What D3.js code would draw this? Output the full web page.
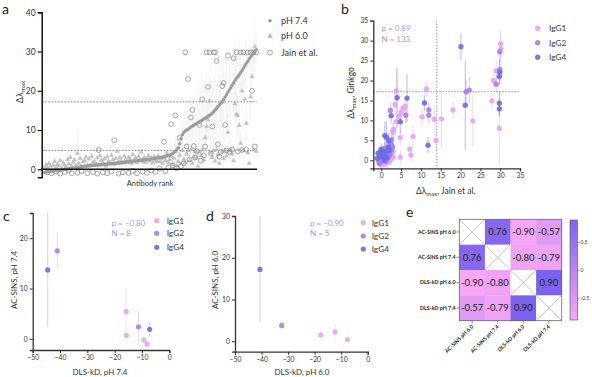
<!DOCTYPE html>
<html><head><meta charset="utf-8">
<script src="https://cdn.jsdelivr.net/npm/d3@7"></script>
<style>body{margin:0;background:#fff} svg{display:block;font-family:Lato,"Open Sans",sans-serif}</style>
</head><body><svg id="c" width="592" height="377"></svg>
<script>
// ---------- Panel a data (ranked by pH 7.4) ----------
const ph74 = [-0.8,-0.7,-0.6,-0.6,-0.5,-0.5,-0.4,-0.4,-0.3,-0.3,
-0.2,-0.2,-0.1,-0.1,0,0,0.1,0.1,0.2,0.2,
0.3,0.3,0.4,0.5,0.5,0.6,0.7,0.7,0.8,0.8,
0.8,0.9,0.9,1.0,1.0,1.0,1.1,1.1,1.1,1.2,
1.2,1.2,1.3,1.3,1.3,1.4,1.4,1.4,1.5,1.5,
1.5,1.6,1.6,1.6,1.7,1.7,1.8,1.8,1.9,1.9,
2.0,2.0,2.0,2.1,2.1,2.2,2.2,2.3,2.3,2.4,
2.4,2.5,2.5,2.5,2.6,2.6,2.7,2.8,2.8,2.9,
2.9,3.0,3.1,3.1,3.2,3.3,3.4,3.5,3.6,3.8,
4.0,4.3,4.6,4.9,5.5,6.5,7.8,8.8,9.4,9.8,
10.0,10.2,10.5,10.8,11.0,11.2,11.5,11.7,11.9,12.1,
12.3,12.5,12.8,13.0,13.2,13.5,13.7,14.0,14.3,14.7,
15.1,15.5,16.0,16.4,16.8,17.2,17.8,18.4,19.0,19.6,
20.2,20.8,21.4,22.0,22.6,23.2,23.6,24.1,24.6,25.2,
25.8,26.4,27.0,27.5,28.1,28.6,29.1,29.6,30.0,30.5];
const ph74Err = [0.6,0.9,0.5,1.2,0.7,0.8,1.0,0.6,1.5,0.9,0.7,1.1,0.8,0.6,1.3,0.9,0.7,1.0,0.8,1.4,
0.9,0.6,1.2,0.8,1.0,0.7,1.5,0.9,0.6,1.1,0.8,1.3,0.7,1.0,0.9,1.6,0.8,1.1,0.7,1.2,
0.9,1.4,0.8,1.0,1.7,0.9,1.2,0.8,1.5,1.0,1.1,0.9,1.8,1.2,0.8,1.4,1.0,1.6,0.9,1.3,
1.2,1.0,1.9,1.3,1.1,1.5,0.9,2.0,1.2,1.4,1.6,1.1,2.2,1.3,1.0,1.8,1.4,2.5,1.2,1.6,
1.9,1.3,2.8,1.5,1.7,2.0,3.0,1.6,2.2,2.6,3.0,2.4,3.5,2.8,4.0,3.2,4.5,3.0,5.0,6.0,
4.5,7.0,5.5,8.0,6.0,9.0,5.0,7.5,10.0,6.5,8.0,5.5,9.5,7.0,11.0,6.0,8.5,12.0,7.0,9.0,
10.5,6.5,8.0,12.5,7.5,9.0,11.0,6.0,10.0,8.5,7.0,9.5,6.5,8.0,10.5,7.5,6.0,9.0,5.5,7.0,
4.5,6.5,5.0,3.5,4.0,3.0,4.5,3.0,2.5,3.5];
const ph60 = [0.5,1.2,0.3,1.5,0.8,-0.3,1.0,2.0,0.4,1.3,
0.9,2.2,0.2,1.6,1.1,0.6,2.5,1.4,3.0,0.8,
1.8,2.4,1.0,4.0,1.5,2.8,0.7,1.9,2.2,3.1,
1.2,2.6,0.9,3.3,1.7,2.0,1.4,2.9,1.1,3.5,
2.3,1.6,2.7,0.8,3.2,2.1,1.5,3.6,2.4,1.3,
2.8,4.6,1.9,3.0,2.2,1.6,3.4,2.5,1.8,3.1,
2.7,1.5,3.8,2.2,2.9,1.7,3.3,2.4,4.4,2.0,
3.0,1.8,2.6,3.5,2.1,2.9,1.6,3.2,2.3,1.9,
3.4,2.0,2.7,1.5,3.0,2.2,4.1,1.7,2.5,3.3,
1.2,2.8,4.5,0.9,2.0,3.6,1.4,4.8,2.6,1.8,
3.9,4.7,2.2,5.0,1.5,3.2,4.6,2.9,0.8,4.4,
3.5,4.9,2.4,8.0,10.9,12.6,17.4,4.2,3.0,4.8,
2.1,5.0,3.7,1.5,17.0,4.6,2.8,4.9,3.4,9.4,
4.7,5.0,3.9,2.2,16.7,14.0,13.7,11.2,6.6,20.0,
4.9,17.9,11.7,4.2,1.5,18.5,23.6,5.0,31.2,4.6];
const ph60Err = [0.5,0.8,0.4,1.0,0.6,0.5,0.7,1.2,0.4,0.9,0.6,1.5,0.4,0.8,0.7,0.5,1.8,0.9,2.0,0.6,
1.0,1.6,0.7,6.0,0.9,1.5,0.5,1.1,1.3,2.0,0.8,1.4,0.6,2.2,1.0,1.2,0.8,1.8,0.7,2.5,
1.3,0.9,1.6,0.6,2.0,1.2,0.9,2.4,1.4,0.8,1.6,3.5,1.1,1.8,1.3,0.9,2.2,1.5,1.0,2.0,
1.6,0.9,2.5,1.3,1.8,1.0,2.1,1.4,3.0,1.2,1.8,1.0,1.5,2.2,1.2,1.7,0.9,2.0,1.4,1.1,
2.1,1.2,1.6,0.9,1.8,1.3,2.6,1.0,1.5,2.0,0.8,1.7,2.8,0.6,1.2,2.2,0.9,3.0,1.6,1.1,
2.4,2.9,1.3,3.0,0.9,2.0,2.8,1.8,0.6,2.7,2.1,3.0,1.5,4.0,5.0,5.5,6.0,2.6,1.8,3.0,
1.3,3.0,2.2,0.9,6.0,2.8,1.7,3.0,2.1,4.5,2.9,3.0,2.4,1.3,6.0,5.5,5.0,4.5,3.5,6.0,
3.0,6.0,5.0,2.6,0.9,6.0,7.0,3.0,8.0,2.8];
const jainRank = [3,6,9,12,15,18,20,24,27,31,35,38,39,42,45,48,50,53,56,60,63,66,70,73,76,79,82,85,86,88,90,91,93,94,96,97,99,100,101,102,103,104,105,106,107,108,110,111,112,113,114,115,116,117,118,119,120,121,122,123,124,125,126,127,128,129,130,131,133,134,136,137,139,140,141,143,144,146,147,148,149,150];
const jainValue = [-0.8,-1.0,-0.6,-1.1,-0.7,-0.3,-1.0,-0.9,-0.5,-1.0,-0.7,-1.1,4.9,-0.8,-1.0,-0.6,7.4,-1.1,-0.8,-0.9,-0.4,-1.0,-0.6,-0.9,-0.3,-0.7,0.2,7.0,-0.5,0.5,11.5,1.0,13.7,0.3,8.0,0.8,1.5,29.8,5.8,23.0,2.5,13.2,15.1,5.9,3.0,4.6,11.3,2.2,17.8,3.5,5.8,29.8,21.0,29.8,4.0,10.9,29.8,29.8,27.6,6.4,3.2,4.5,21.2,22.0,11.3,4.8,28.9,4.4,5.0,28.3,29.8,4.6,29.8,4.9,29.8,5.0,29.8,29.8,20.0,29.8,5.8,29.8];
const aYTicks = [0,10,20,30,40];
const aThresholds = [17.2, 4.8];
const aLegend = ["pH 7.4","pH 6.0","Jain et al."];

// ---------- Panel b data: [Jain et al., Ginkgo, error] ----------
const bIgG1 = [[30.1,29.2,3.5],[29.0,22.4,3],[28.3,20.0,2],[27.9,14.9,2],[29.8,8.0,9],[23.1,9.9,6.5],[18.1,12.6,2.2],
[15.2,10.4,7],[13.4,10.3,3],[13.8,5.0,3],[11.4,17.9,2],[10.3,10.9,2.5],[3.8,17.4,5.5],[5.5,13.0,2],[3.8,9.7,2],
[4.8,5.7,2],[4.8,0.8,2],[7.2,2.8,1.5],[7.5,1.3,1.5],[8.0,6.0,3],[3.1,7.8,2],[2.9,7.4,2],[5.0,12.0,2],[3.5,14.0,3],
[6.0,13.5,2],[4.5,11.0,2],[3.0,7.0,1.5],[0.0,-1.2,0.8],[0.5,-0.5,1],[1.7,1.3,1],[2.0,0.2,1],[2.3,1.2,1],[2.7,1.8,1],
[3.0,2.2,1],[3.0,0.8,1],[-0.7,-0.3,1],[0.3,-0.8,1],[1.0,-1.0,1],[2.0,-0.5,1],[-0.2,0.6,1],[1.4,3.8,1.5],[2.6,0.4,1],
[2.9,3.0,1],[1.2,2.1,1],[30.2,28.0,3]];
const bIgG2 = [[29.9,27.2,2.5],[29.9,22.8,2.5],[29.0,19.1,2],[21.4,17.2,3],[22.2,17.6,3.3],[12.0,12.6,2],[12.0,11.3,2],
[2.3,12.5,2],[6.2,11.3,2],[-0.5,0.0,1],[-0.5,-0.8,1],[0.0,0.3,1],[0.3,0.8,1],[0.7,1.2,1],[1.0,2.5,1.2],[1.2,-0.3,1],
[1.3,1.8,1],[1.5,2.8,1],[2.0,2.0,1],[2.2,3.0,1.2],[2.5,2.5,1],[2.5,4.0,1.5],[2.8,3.5,1],[0.4,1.9,1],[1.1,0.4,1],
[2.2,1.6,1],[0.9,3.0,1.5],[-0.4,1.4,1],[1.9,1.0,1],[0.1,-0.2,1],[2.4,4.5,1],[2.6,5.2,1.5]];
const bIgG4 = [[20.1,28.5,3.3],[29.9,22.1,3],[29.8,21.0,2],[29.8,14.3,3],[29.8,12.9,2],[21.2,13.8,11.3],[10.9,14.4,2],
[11.8,3.8,2],[4.0,15.7,7.5],[6.5,15.6,6],[2.5,11.2,2],[4.8,9.7,3],[0.9,6.2,3.5],[1.9,4.9,2],[-1.0,0.5,1],[-0.8,1.8,1.2],
[-0.3,1.0,1],[-0.2,2.0,1],[0.2,1.5,1],[0.5,2.2,1.5],[0.8,0.0,1],[1.0,1.0,1],[1.5,0.6,1],[1.8,3.3,1.2],[0.0,2.8,1.5],
[1.6,2.3,1],[2.1,2.6,1],[0.6,1.0,1],[1.3,5.8,4]];
const bTicks = [0,5,10,15,20,25,30,35];
const bThreshX = 14, bThreshY = 17.2;

// ---------- Panels c, d: [DLS-kD, AC-SINS, error] ----------
const cIgG1 = [[-15.8,5.4,4.7],[-15.7,0.7,0.3],[-9.3,-0.2,0.5],[-8.1,-1.05,0.3]];
const cIgG2 = [[-41.0,17.5,3.5],[-11.3,2.4,3.1]];
const cIgG4 = [[-44.5,13.7,11.3],[-7.2,1.9,1.5]];
const dIgG1 = [[-17.7,1.5,0.8],[-12.3,2.2,1.8],[-7.6,0.4,0.5]];
const dIgG2 = [[-32.4,3.8,0.8]];
const dIgG4 = [[-40.6,17.2,12.8]];
const cdXTicks = [-50,-40,-30,-20,-10,0];
const cYTicks = [0,10,20];
const dYTicks = [0,10,20,30];
const subclasses = ["IgG1","IgG2","IgG4"];
const subColors = ["#e3a5ef","#a67fe9","#6a6de2"];

// ---------- Panel e ----------
const eLabels = ["AC-SINS pH 6.0","AC-SINS pH 7.4","DLS-kD pH 6.0","DLS-kD pH 7.4"];
const eMatrix = [[null,0.76,-0.90,-0.57],[0.76,null,-0.80,-0.79],[-0.90,-0.80,null,0.90],[-0.57,-0.79,0.90,null]];
const eBarTicks = [0.5,0,-0.5];

// ================= drawing =================
const svg = d3.select("#c");
const txtCol = "#333";

function subLabel(g, x, y, rotate, size, parts, anchor="middle"){
  const t = g.append("text").attr("transform",`translate(${x},${y}) rotate(${rotate})`)
    .attr("text-anchor",anchor).attr("font-size",size).attr("fill",txtCol);
  parts.forEach(p=>{
    const s = t.append("tspan").text(p.t);
    if(p.sub){ s.attr("font-size",size*0.7).attr("dy",size*0.25); }
    else if(p.after){ s.attr("dy",-size*0.25); }
  });
  return t;
}
function styleAxis(g, col, w, fs){
  g.selectAll(".domain").attr("stroke",col).attr("stroke-width",w);
  g.selectAll(".tick line").attr("stroke",col).attr("stroke-width",w*0.8);
  g.selectAll(".tick text").attr("fill",txtCol).attr("font-size",fs).attr("font-family","Lato,sans-serif");
}
function letter(x,y,s){ svg.append("text").attr("x",x).attr("y",y).attr("font-size",14).attr("fill","#222").text(s); }

// ---- Panel a ----
{
  const g = svg.append("g");
  const x = d3.scaleLinear().domain([0.5,150.5]).range([44,257]);
  const y = d3.scaleLinear().domain([-2,40]).range([177.15,12.3]);
  const ranks = ph74.map((d,i)=>i+1);
  g.append("g").selectAll("line").data(ranks).join("line")
    .attr("x1",r=>x(r)).attr("x2",r=>x(r))
    .attr("y1",r=>y(ph74[r-1]-ph74Err[r-1])).attr("y2",r=>y(ph74[r-1]+ph74Err[r-1]))
    .attr("stroke","#ececec").attr("stroke-width",0.6);
  g.append("g").selectAll("line").data(ranks).join("line")
    .attr("x1",r=>x(r)).attr("x2",r=>x(r))
    .attr("y1",r=>y(ph60[r-1]-ph60Err[r-1])).attr("y2",r=>y(ph60[r-1]+ph60Err[r-1]))
    .attr("stroke","#ededed").attr("stroke-width",0.6);
  aThresholds.forEach(t=>g.append("line").attr("x1",42).attr("x2",257).attr("y1",y(t)).attr("y2",y(t))
    .attr("stroke","#666").attr("stroke-width",0.8).attr("stroke-dasharray","1.6,1.6"));
  const tri = d3.symbol(d3.symbolTriangle).size(11);
  g.append("g").selectAll("path").data(ranks).join("path").attr("d",tri)
    .attr("transform",r=>`translate(${x(r)},${y(ph60[r-1])})`).attr("fill","#b8b8b8").attr("opacity",0.85);
  g.append("g").selectAll("circle").data(jainRank).join("circle")
    .attr("cx",r=>x(r)).attr("cy",(r,i)=>y(jainValue[i])).attr("r",2.4)
    .attr("fill","none").attr("stroke","#8e8e8e").attr("stroke-width",0.8);
  g.append("g").selectAll("circle").data(ranks).join("circle")
    .attr("cx",r=>x(r)).attr("cy",r=>y(ph74[r-1])).attr("r",1.7).attr("fill","#9c9c9c");
  const ya = g.append("g").attr("transform","translate(41.7,0)")
    .call(d3.axisLeft(y).tickValues(aYTicks).tickSize(4).tickPadding(2).tickFormat(d3.format("d")));
  styleAxis(ya,"#111",1.5,8.5);
  g.append("line").attr("x1",41).attr("x2",257).attr("y1",y(0)).attr("y2",y(0)).attr("stroke","#111").attr("stroke-width",1.5);
  g.append("text").attr("x",150).attr("y",186).attr("text-anchor","middle").attr("font-size",7.5).attr("fill",txtCol).text("Antibody rank");
  subLabel(g,23,92,-90,9,[{t:"Δλ"},{t:"max",sub:true}]);
  // legend
  const ly=[20.7,36,52.7];
  g.append("circle").attr("cx",270).attr("cy",ly[0]).attr("r",1.8).attr("fill","#9c9c9c");
  g.append("path").attr("d",d3.symbol(d3.symbolTriangle).size(14)).attr("transform",`translate(270,${ly[1]})`).attr("fill","#b8b8b8");
  g.append("circle").attr("cx",270).attr("cy",ly[2]).attr("r",2.4).attr("fill","none").attr("stroke","#8e8e8e").attr("stroke-width",0.8);
  aLegend.forEach((s,i)=>g.append("text").attr("x",281).attr("y",ly[i]+3.2).attr("font-size",9).attr("fill",txtCol).text(s));
  letter(2,14,"a");
}

// helper for scatter panels
function scatterPanel(o){
  const g = svg.append("g");
  const x = d3.scaleLinear().domain(o.xd).range(o.xr);
  const y = d3.scaleLinear().domain(o.yd).range(o.yr);
  if(o.extra) o.extra(g,x,y);
  o.groups.forEach((arr,k)=>{
    const col = subColors[k];
    g.append("g").selectAll("line").data(arr).join("line")
      .attr("x1",d=>x(d[0])).attr("x2",d=>x(d[0]))
      .attr("y1",d=>y(Math.max(o.yd[0],d[1]-d[2]))).attr("y2",d=>y(Math.min(o.yd[1]+0.8,d[1]+d[2])))
      .attr("stroke",col).attr("stroke-width",1).attr("opacity",o.errOp);
  });
  o.groups.forEach((arr,k)=>{
    g.append("g").selectAll("circle").data(arr).join("circle")
      .attr("cx",d=>x(d[0])).attr("cy",d=>y(d[1])).attr("r",o.r)
      .attr("fill",subColors[k]).attr("opacity",0.9);
  });
  const xa = g.append("g").attr("transform",`translate(0,${o.yr[0]})`)
    .call(d3.axisBottom(x).tickValues(o.xt).tickSize(3).tickPadding(2).tickFormat(d3.format("d")));
  const ya = g.append("g").attr("transform",`translate(${o.xr[0]},0)`)
    .call(d3.axisLeft(y).tickValues(o.yt).tickSize(3).tickPadding(2).tickFormat(d3.format("d")));
  styleAxis(xa,"#333",1.3,6.8); styleAxis(ya,"#333",1.3,6.8);
  o.stats.forEach((s,i)=>g.append("text").attr("x",o.sx).attr("y",o.sy[i]+2.8).attr("font-size",8)
    .attr("fill","#a992ef").text(s));
  subclasses.forEach((s,i)=>{
    g.append("circle").attr("cx",o.lx).attr("cy",o.ly[i]).attr("r",o.r).attr("fill",subColors[i]).attr("opacity",0.9);
    g.append("text").attr("x",o.tx).attr("y",o.ly[i]+3).attr("font-size",8.3).attr("fill",txtCol).text(s);
  });
  return g;
}

// ---- Panel b ----
{
  const g = scatterPanel({xd:[-2,35],xr:[373.3,520],yd:[-2,35],yr:[168.3,20.7],xt:bTicks,yt:bTicks,r:2.7,errOp:0.45,
    groups:[bIgG1,bIgG2,bIgG4],stats:["ρ = 0.89","N = 133"],sx:381.5,sy:[28,39],
    lx:537.7,tx:549,ly:[28.3,42.7,57.3],
    extra:(g,x,y)=>{
      g.append("line").attr("x1",x(bThreshX)).attr("x2",x(bThreshX)).attr("y1",20.7).attr("y2",168.3)
        .attr("stroke","#777").attr("stroke-width",0.8).attr("stroke-dasharray","1.5,1.5");
      g.append("line").attr("x1",373.3).attr("x2",520).attr("y1",y(bThreshY)).attr("y2",y(bThreshY))
        .attr("stroke","#777").attr("stroke-width",0.8).attr("stroke-dasharray","1.5,1.5");
    }});
  subLabel(g,354,93,-90,8.5,[{t:"Δλ"},{t:"max",sub:true},{t:", Ginkgo",after:true}]);
  subLabel(g,416,194,0,8.5,[{t:"Δλ"},{t:"max",sub:true},{t:", Jain et al.",after:true}],"start");
  letter(341,14,"b");
}

// ---- Panel c ----
{
  const g = scatterPanel({xd:[-50,0],xr:[32.7,169.3],yd:[-2.2,25],yr:[350,213],xt:cdXTicks,yt:cYTicks,r:2.6,errOp:0.3,
    groups:[cIgG1,cIgG2,cIgG4],stats:["ρ = −0.80","N = 8"],sx:111.5,sy:[223,233.3],
    lx:156.7,tx:166.7,ly:[220.7,233.3,247.3]});
  g.append("text").attr("x",100).attr("y",375).attr("text-anchor","middle").attr("font-size",8).attr("fill",txtCol).text("DLS-kD, pH 7.4");
  g.append("text").attr("transform","translate(17,280) rotate(-90)").attr("text-anchor","middle").attr("font-size",8).attr("fill",txtCol).text("AC-SINS, pH 7.4");
  letter(3,221,"c");
}

// ---- Panel d ----
{
  const g = scatterPanel({xd:[-50,0],xr:[235,367.7],yd:[-2.5,30],yr:[351.7,216],xt:cdXTicks,yt:dYTicks,r:2.6,errOp:0.3,
    groups:[dIgG1,dIgG2,dIgG4],stats:["ρ = −0.90","N = 5"],sx:310,sy:[223.3,232.7],
    lx:363.3,tx:371.7,ly:[222.7,236,249]});
  g.append("text").attr("x",302).attr("y",375).attr("text-anchor","middle").attr("font-size",8).attr("fill",txtCol).text("DLS-kD, pH 6.0");
  g.append("text").attr("transform","translate(218,280) rotate(-90)").attr("text-anchor","middle").attr("font-size",8).attr("fill",txtCol).text("AC-SINS, pH 6.0");
  letter(206,221,"d");
}

// ---- Panel e ----
{
  const g = svg.append("g");
  const xb = d3.scaleBand().domain(eLabels).range([459.3,561.7]);
  const yb = d3.scaleBand().domain(eLabels).range([219.3,320.7]);
  const col = d3.scaleLinear().domain([-0.9,0.9]).range(["#f7a7f5","#7b63ee"]).interpolate(d3.interpolateRgb);
  const cells = [];
  eMatrix.forEach((row,i)=>row.forEach((v,j)=>cells.push({i,j,v})));
  g.selectAll("rect.cell").data(cells).join("rect").attr("class","cell")
    .attr("x",d=>xb(eLabels[d.j])).attr("y",d=>yb(eLabels[d.i])).attr("width",xb.bandwidth()+0.3).attr("height",yb.bandwidth()+0.3)
    .attr("fill",d=>d.v==null?"#fff":col(d.v));
  cells.filter(d=>d.v==null).forEach(d=>{
    const x0=xb(eLabels[d.j]), y0=yb(eLabels[d.i]), w=xb.bandwidth(), h=yb.bandwidth();
    g.append("line").attr("x1",x0).attr("y1",y0).attr("x2",x0+w).attr("y2",y0+h).attr("stroke","#999").attr("stroke-width",0.6);
    g.append("line").attr("x1",x0+w).attr("y1",y0).attr("x2",x0).attr("y2",y0+h).attr("stroke","#999").attr("stroke-width",0.6);
  });
  g.selectAll("text.val").data(cells.filter(d=>d.v!=null)).join("text").attr("class","val")
    .attr("x",d=>xb(eLabels[d.j])+xb.bandwidth()/2).attr("y",d=>yb(eLabels[d.i])+yb.bandwidth()/2+3.4)
    .attr("text-anchor","middle").attr("font-size",9.5).attr("fill","#222").text(d=>d3.format(".2f")(d.v).replace("−","-"));
  g.append("rect").attr("x",459.3).attr("y",219.3).attr("width",102.4).attr("height",101.4).attr("fill","none").attr("stroke","#666").attr("stroke-width",0.8);
  eLabels.forEach(l=>{
    const cy = yb(l)+yb.bandwidth()/2;
    g.append("line").attr("x1",456.3).attr("x2",459.3).attr("y1",cy).attr("y2",cy).attr("stroke","#444").attr("stroke-width",0.6);
    g.append("text").attr("x",455.5).attr("y",cy+1.8).attr("text-anchor","end").attr("font-size",5.3).attr("font-weight",700).attr("fill","#222").text(l);
    const cx = xb(l)+xb.bandwidth()/2;
    g.append("line").attr("x1",cx).attr("x2",cx).attr("y1",320.7).attr("y2",323.7).attr("stroke","#444").attr("stroke-width",0.6);
    g.append("text").attr("transform",`translate(${cx+1.5},${327}) rotate(-45)`).attr("text-anchor","end")
      .attr("font-size",5.3).attr("font-weight",700).attr("fill","#222").text(l);
  });
  // colorbar
  const defs = svg.append("defs");
  const grad = defs.append("linearGradient").attr("id","cb").attr("x1",0).attr("y1",1).attr("x2",0).attr("y2",0);
  [0,0.5,1].forEach(t=>grad.append("stop").attr("offset",t).attr("stop-color",col(-0.9+1.8*t)));
  const yc = d3.scaleLinear().domain([-0.88,0.9]).range([320,220]);
  g.append("rect").attr("x",570).attr("y",220).attr("width",7.5).attr("height",100).attr("fill","url(#cb)").attr("stroke","#666").attr("stroke-width",0.7);
  eBarTicks.forEach(t=>{
    g.append("line").attr("x1",577.5).attr("x2",579.5).attr("y1",yc(t)).attr("y2",yc(t)).attr("stroke","#444").attr("stroke-width",0.6);
    g.append("text").attr("x",580.5).attr("y",yc(t)+1.8).attr("font-size",5).attr("fill","#333").text(t);
  });
  letter(406,217,"e");
}
</script></body></html>
